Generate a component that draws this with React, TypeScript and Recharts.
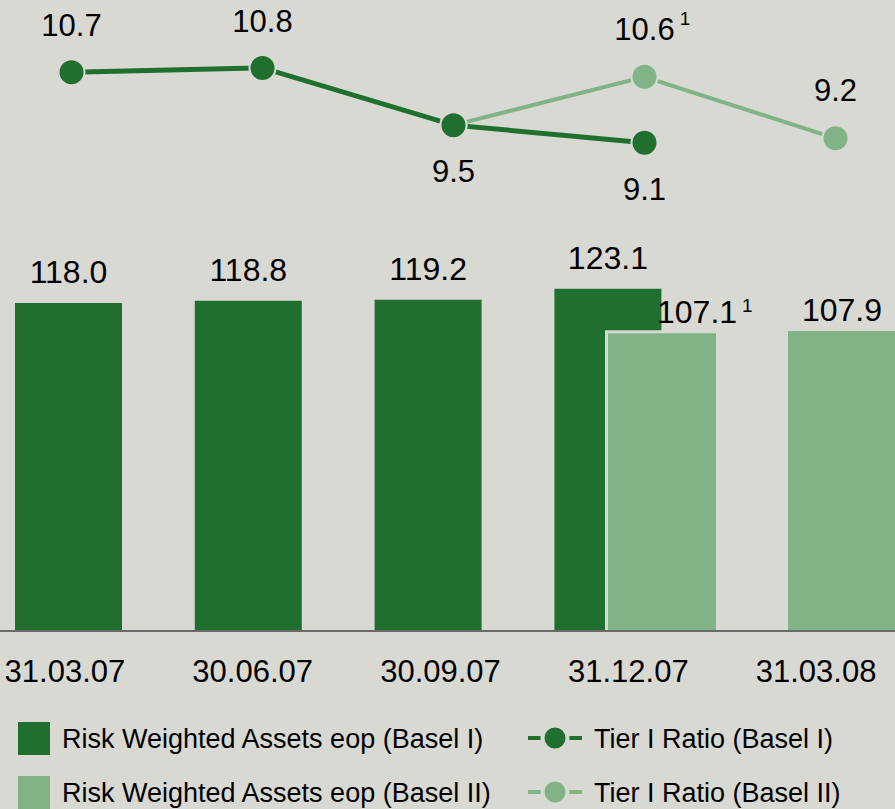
import React from "react";
import { ComposedChart, Bar, Line, XAxis, YAxis, LabelList } from "recharts";

// quarter-end dates
const dates = ["31.03.07", "30.06.07", "30.09.07", "31.12.07", "31.03.08"];
// Risk Weighted Assets eop
const rwaBasel1 = [118.0, 118.8, 119.2, 123.1, null];
const rwaBasel2 = [null, null, null, 107.1, 107.9];
// Tier I Ratio
const tierBasel1 = [10.7, 10.8, 9.5, 9.1, null];
const tierBasel2 = [null, null, 9.5, 10.6, 9.2];
// footnote "1" markers
const rwaBasel2Note = [false, false, false, true, false];
const tierBasel2Note = [false, false, false, true, false];

const BG = "#d9d9d4";
const DARK = "#216f2f";
const LIGHT = "#80b487";
const FONT = "'Liberation Sans', Arial, sans-serif";

const data = dates.map((date, i) => ({
  date,
  rwa1: rwaBasel1[i],
  rwa2: rwaBasel2[i],
  tier1: tierBasel1[i],
  tier2: tierBasel2[i],
}));

// rough Arial width for digits and dots
const textWidth = (s: string, size: number) =>
  s.split("").reduce((w, c) => w + (c === "." ? 0.278 : 0.556), 0) * size;

const Sup = ({ x, y }: { x: number; y: number }) => (
  <text x={x} y={y} fontSize={19} fill="#000" fontFamily={FONT}>
    1
  </text>
);

const darkBarLabel = (props: any) => {
  const { x, y, width, value } = props;
  if (value == null) return null;
  return (
    <text x={x + width / 2} y={y - 20} textAnchor="middle" fontSize={32} fill="#000" fontFamily={FONT}>
      {Number(value).toFixed(1)}
    </text>
  );
};

const lightBarLabel = (props: any) => {
  const { x, y, width, value } = props;
  if (value == null) return null;
  const idx = rwaBasel2.indexOf(Number(value));
  const s = Number(value).toFixed(1);
  const besideDark = rwaBasel1[idx] != null;
  const w = textWidth(s, 32);
  const start = besideDark ? x + width / 2 - 5 : x + width / 2 - w / 2;
  const base = y - 10;
  return (
    <g>
      <text x={start} y={base} fontSize={32} fill="#000" fontFamily={FONT}>
        {s}
      </text>
      {rwaBasel2Note[idx] && <Sup x={start + w + 5} y={base - 11} />}
    </g>
  );
};

// light bar with a background-coloured edge where it sits over the dark bar
const lightBarShape = (props: any) => {
  const { x, y, width, height } = props;
  if (!height) return null;
  return (
    <g>
      <rect x={x - 3} y={y - 3} width={width + 3} height={height + 3} fill={BG} />
      <rect x={x} y={y} width={width} height={height} fill={LIGHT} />
    </g>
  );
};

const tier1Label = (props: any) => {
  const { x, y, value, index } = props;
  if (value == null) return null;
  const below = tierBasel2[index] != null;
  return (
    <text x={x} y={below ? y + 57 : y - 36} textAnchor="middle" fontSize={31} fill="#000" fontFamily={FONT}>
      {Number(value).toFixed(1)}
    </text>
  );
};

const tier2Label = (props: any) => {
  const { x, y, value, index } = props;
  if (value == null || tierBasel1[index] === value) return null;
  const s = Number(value).toFixed(1);
  const w = textWidth(s, 31);
  const base = y - 37;
  return (
    <g>
      <text x={x} y={base} textAnchor="middle" fontSize={31} fill="#000" fontFamily={FONT}>
        {s}
      </text>
      {tierBasel2Note[index] && <Sup x={x + w / 2 + 5} y={base - 15} />}
    </g>
  );
};

const legendItems = [
  { label: "Risk Weighted Assets eop (Basel I)", type: "bar", color: DARK },
  { label: "Tier I Ratio (Basel I)", type: "line", color: DARK },
  { label: "Risk Weighted Assets eop (Basel II)", type: "bar", color: LIGHT },
  { label: "Tier I Ratio (Basel II)", type: "line", color: LIGHT },
];

export default function App() {
  return (
    <div
      style={{
        position: "fixed",
        left: 0,
        top: 0,
        width: 895,
        height: 809,
        overflow: "hidden",
        background: BG,
        fontFamily: FONT,
      }}
    >
      <div style={{ position: "absolute", left: -29, top: 0 }}>
        <ComposedChart width={961} height={691} data={data} margin={{ top: 0, right: 0, bottom: 0, left: 0 }}>
          <YAxis yAxisId="rwa" hide domain={[0, 227]} />
          <YAxis yAxisId="ratio" hide domain={[-2, 12.345]} />
          <XAxis xAxisId="dark" orientation="top" dataKey="date" hide padding={{ left: 8, right: 54 }} />
          <XAxis xAxisId="light" orientation="top" dataKey="date" hide padding={{ left: 61, right: 0 }} />
          <XAxis xAxisId="line" orientation="top" dataKey="date" hide padding={{ left: 5, right: 1 }} />

          <Bar
            xAxisId="dark"
            yAxisId="rwa"
            dataKey="rwa1"
            name="Risk Weighted Assets eop (Basel I)"
            fill={DARK}
            barSize={107}
            isAnimationActive={false}
          >
            <LabelList dataKey="rwa1" content={darkBarLabel} />
          </Bar>
          <Bar
            xAxisId="light"
            yAxisId="rwa"
            dataKey="rwa2"
            name="Risk Weighted Assets eop (Basel II)"
            fill={LIGHT}
            barSize={108}
            shape={lightBarShape}
            isAnimationActive={false}
          >
            <LabelList dataKey="rwa2" content={lightBarLabel} />
          </Bar>

          <XAxis
            xAxisId="ticks"
            dataKey="date"
            interval={0}
            height={60}
            padding={{ left: 0, right: 22 }}
            tickLine={false}
            tickMargin={23}
            axisLine={{ stroke: "#6a6a6a", strokeWidth: 2 }}
            tick={{ fontSize: 31, fill: "#000", fontFamily: FONT }}
          />

          <Line
            xAxisId="line"
            yAxisId="ratio"
            dataKey="tier2"
            name="Tier I Ratio (Basel II)"
            stroke={LIGHT}
            strokeWidth={4}
            dot={{ r: 13, fill: LIGHT, stroke: BG, strokeWidth: 2 }}
            activeDot={false}
            isAnimationActive={false}
          >
            <LabelList dataKey="tier2" content={tier2Label} />
          </Line>
          <Line
            xAxisId="line"
            yAxisId="ratio"
            dataKey="tier1"
            name="Tier I Ratio (Basel I)"
            stroke={DARK}
            strokeWidth={5}
            dot={{ r: 13, fill: DARK, stroke: BG, strokeWidth: 2 }}
            activeDot={false}
            isAnimationActive={false}
          >
            <LabelList dataKey="tier1" content={tier1Label} />
          </Line>
        </ComposedChart>
      </div>

      <svg width={895} height={809} style={{ position: "absolute", left: 0, top: 0, pointerEvents: "none" }}>
        {legendItems.map((item, i) => {
          const top = 722 + Math.floor(i / 2) * 54;
          if (item.type === "bar") {
            return (
              <g key={item.label}>
                <rect x={18} y={top} width={32} height={33} fill={item.color} />
                <text x={62} y={top + 26} fontSize={27} fill="#000" fontFamily={FONT}>
                  {item.label}
                </text>
              </g>
            );
          }
          return (
            <g key={item.label}>
              <line x1={528} x2={582} y1={top + 16} y2={top + 16} stroke={item.color} strokeWidth={4} />
              <circle cx={555} cy={top + 16} r={12.5} fill={item.color} stroke={BG} strokeWidth={4} />
              <text x={594} y={top + 26} fontSize={27} fill="#000" fontFamily={FONT}>
                {item.label}
              </text>
            </g>
          );
        })}
      </svg>
    </div>
  );
}
